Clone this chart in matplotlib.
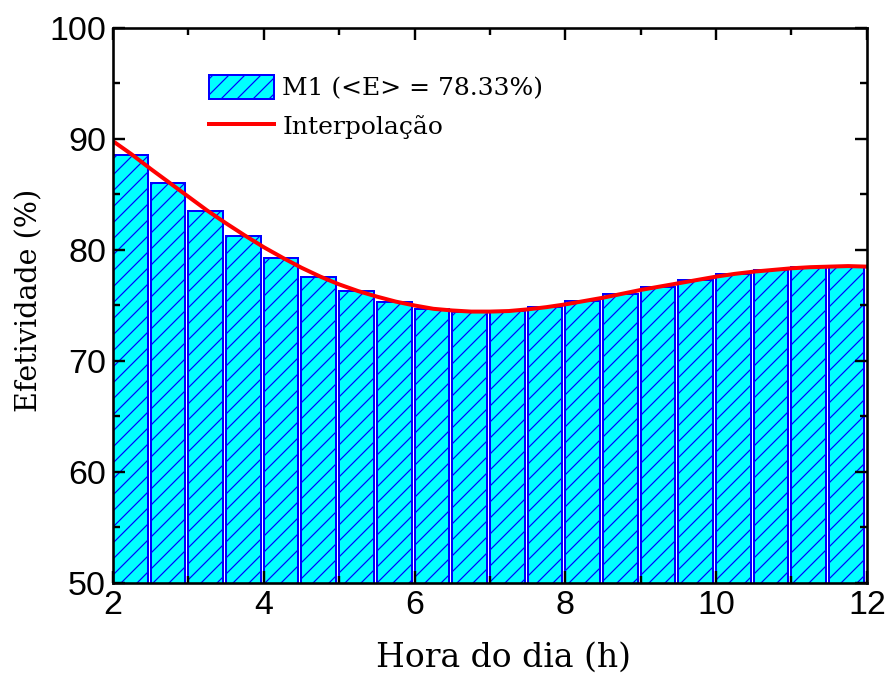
import numpy as np
import matplotlib
matplotlib.use('Agg')
import matplotlib.pyplot as plt

# bar data (Efetividade per half hour, M1)
bar_start = [2.0, 2.5, 3.0, 3.5, 4.0, 4.5, 5.0, 5.5, 6.0, 6.5,
             7.0, 7.5, 8.0, 8.5, 9.0, 9.5, 10.0, 10.5, 11.0, 11.5]
bar_vals = [88.59, 86.06, 83.54, 81.26, 79.31, 77.60, 76.28, 75.32, 74.69, 74.44,
            74.53, 74.89, 75.40, 76.06, 76.70, 77.30, 77.87, 78.20, 78.44, 78.56]

# interpolation curve
curve_x = [2.0, 2.25, 2.5, 2.75, 3.0, 3.25, 3.5, 3.75, 4.0, 4.25, 4.5, 4.75,
           5.0, 5.25, 5.5, 5.75, 6.0, 6.25, 6.5, 6.75, 7.0, 7.25, 7.5, 7.75,
           8.0, 8.25, 8.5, 8.75, 9.0, 9.25, 9.5, 9.75, 10.0, 10.25, 10.5, 10.75,
           11.0, 11.25, 11.5, 11.75, 12.0]
curve_y = [89.8, 88.6, 87.3, 86.05, 84.8, 83.55, 82.4, 81.3, 80.25, 79.3, 78.4, 77.6,
           76.9, 76.3, 75.8, 75.35, 75.0, 74.7, 74.55, 74.45, 74.45, 74.5, 74.65, 74.85,
           75.1, 75.4, 75.7, 76.05, 76.4, 76.7, 77.0, 77.3, 77.6, 77.85, 78.05, 78.2,
           78.35, 78.45, 78.5, 78.55, 78.5]

plt.rcParams['hatch.linewidth'] = 0.6
plt.rcParams['font.family'] = ['Liberation Sans', 'DejaVu Sans']

fig = plt.figure(figsize=(890/144, 679/144), dpi=144)
ax = fig.add_axes([0.127, 0.1414, 0.847, 0.8174])

bars = ax.bar(bar_start, bar_vals, width=0.46, align='edge', color='#00FFFF',
              edgecolor='#0000FF', linewidth=1.0, hatch='///')
line, = ax.plot(curve_x, curve_y, color='#FF0000', lw=2.0)

ax.set_xlim(2, 12)
ax.set_ylim(50, 100)
ax.set_xticks([2, 4, 6, 8, 10, 12])
ax.set_xticks([3, 5, 7, 9, 11], minor=True)
ax.set_yticks([50, 60, 70, 80, 90, 100])
ax.set_yticks([55, 65, 75, 85, 95], minor=True)
ax.tick_params(which='both', direction='in', top=True, right=True, width=1.2, labelsize=17)
ax.tick_params(which='major', length=6)
ax.tick_params(which='minor', length=3.5)
for lbl in ax.get_xticklabels() + ax.get_yticklabels():
    lbl.set_family('Liberation Sans')
for s in ax.spines.values():
    s.set_linewidth(1.3)

ax.set_xlabel('Hora do dia (h)', fontsize=16.5, family='DejaVu Serif')
ax.set_ylabel('Efetividade (%)', fontsize=14.3, family='DejaVu Serif')
ax.xaxis.set_label_coords(0.518, -0.105)
ax.yaxis.set_label_coords(-0.092, 0.51)

ax.legend([bars, line], ['M1 (<E> = 78.33%)', 'Interpolação'],
          loc='upper left', bbox_to_anchor=(0.097, 0.955), frameon=False,
          prop={'family': 'DejaVu Serif', 'size': 12.5},
          handlelength=2.6, handleheight=1.05, handletextpad=0.35, labelspacing=0.55)

fig.savefig('out.png', dpi=144)
